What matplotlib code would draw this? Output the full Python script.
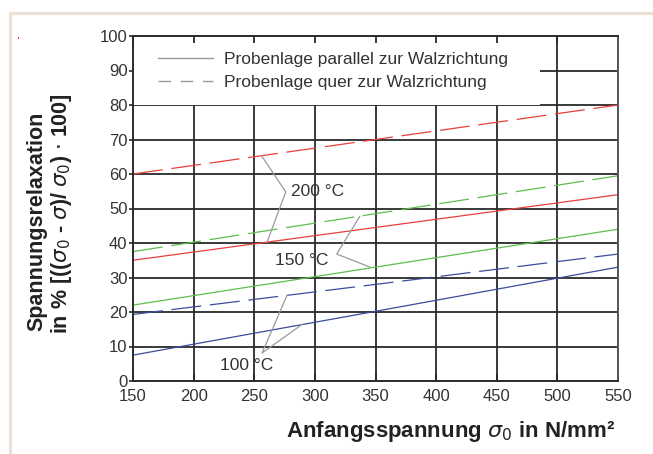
import matplotlib
matplotlib.use('Agg')
import matplotlib.pyplot as plt
from matplotlib.lines import Line2D
from matplotlib.patches import Rectangle

plt.rcParams['font.family'] = ['Liberation Sans', 'DejaVu Sans']
plt.rcParams['mathtext.fontset'] = 'dejavusans'

# initial stress sigma_0 in N/mm^2
stress = [150, 350, 550]

# stress relaxation in %, rolling direction parallel / transverse
relax_200_par = [35.0, 44.5, 54.0]
relax_200_quer = [60.0, 70.0, 80.0]
relax_150_par = [22.0, 33.0, 44.0]
relax_150_quer = [37.5, 48.5, 59.5]
relax_100_par = [7.5, 20.2, 33.0]
relax_100_quer = [19.3, 28.0, 36.8]

x_ticks = [150, 200, 250, 300, 350, 400, 450, 500, 550]
y_ticks = [0, 10, 20, 30, 40, 50, 60, 70, 80, 90, 100]

RED = '#e8403a'
GREEN = '#5cbf4c'
BLUE = '#3a4c9e'
DASH = (0, (24, 7))
LW = 0.9

fig = plt.figure(figsize=(6.53, 4.54), dpi=100)

# beige frame around the sheet
fig.patches.append(Rectangle((9.5 / 653, -0.1), 1.0, 1 - 12.5 / 454 + 0.1,
                             transform=fig.transFigure, facecolor='none',
                             edgecolor='#ebe0d5', linewidth=2.3, zorder=0))
fig.patches.append(Rectangle((17.5 / 653, 1 - 38.5 / 454), 1.5 / 653, 1.5 / 454,
                             transform=fig.transFigure, facecolor='#ff3030',
                             edgecolor='none', zorder=1))

ax = fig.add_axes([133 / 653, 73 / 454, 485 / 653, 345 / 454])
ax.set_xlim(150, 550)
ax.set_ylim(0, 100)
ax.set_xticks(x_ticks)
ax.set_yticks(y_ticks)
ax.grid(False)

# grid drawn by hand so the legend patch can sit between grid and ticks
for xv in x_ticks[1:-1]:
    ax.axvline(xv, color='#2a2a2a', lw=1.3, zorder=0.5)
for yv in y_ticks[1:-1]:
    ax.axhline(yv, color='#2a2a2a', lw=1.3, zorder=0.5)
ax.add_patch(Rectangle((150, 80), 336, 20, facecolor='white',
                       edgecolor='none', zorder=0.8))

ax.plot(stress, relax_200_quer, color=RED, lw=LW, ls=DASH, zorder=2)
ax.plot(stress, relax_200_par, color=RED, lw=LW, zorder=2)
ax.plot(stress, relax_150_quer, color=GREEN, lw=LW, ls=DASH, zorder=2)
ax.plot(stress, relax_150_par, color=GREEN, lw=LW, zorder=2)
ax.plot(stress, relax_100_quer, color=BLUE, lw=LW, ls=DASH, zorder=2)
ax.plot(stress, relax_100_par, color=BLUE, lw=LW, zorder=2)

for sp in ax.spines.values():
    sp.set_color('#2a2a2a')
    sp.set_linewidth(1.4)
ax.spines['right'].set_color('#555555')

ax.tick_params(axis='x', direction='in', top=True, length=5, width=1.3,
               color='#2a2a2a', pad=6, labelsize=12, labelcolor='#333333')
ax.tick_params(axis='y', direction='out', length=3, width=1.2,
               color='#2a2a2a', pad=1, labelsize=12, labelcolor='#333333')

# temperature labels with leader lines
lead = dict(color='#9a9a9a', lw=0.9, zorder=3)
ax.plot([256, 276, 260.5], [65.3, 54.8, 40.2], **lead)
ax.text(280, 54.8, '200 °C', fontsize=12.5, color='#333333', va='center')
ax.plot([337, 318, 345.5], [47.7, 36.8, 33.0], **lead)
ax.text(267, 34.8, '150 °C', fontsize=12.5, color='#333333', va='center')
ax.plot([277, 256.4, 289.4], [24.8, 8.1, 16.4], **lead)
ax.text(222, 4.5, '100 °C', fontsize=12.5, color='#333333', va='center')

handles = [Line2D([], [], color='#9a9a9a', lw=1.0),
           Line2D([], [], color='#9a9a9a', lw=1.0, ls=(0, (9, 7)))]
leg = ax.legend(handles, ['Probenlage parallel zur Walzrichtung',
                          'Probenlage quer zur Walzrichtung'],
                loc='upper left', bbox_to_anchor=(0.037, 0.975), frameon=False,
                fontsize=12.5, handlelength=3.2, handletextpad=0.6,
                labelspacing=0.45, borderaxespad=0.0)
for t in leg.get_texts():
    t.set_color('#333333')

fig.text(37 / 653, 1 - 221 / 454, 'Spannungsrelaxation', rotation=90,
         ha='center', va='center', fontsize=15.5, fontweight='bold',
         color='#222222')
fig.text(62 / 653, 1 - 214 / 454,
         r'in % [(($\sigma_0$ - $\sigma$)/ $\sigma_0$) $\cdot$ 100]',
         rotation=90, ha='center', va='center', fontsize=15.5,
         fontweight='bold', color='#222222')
fig.text(615 / 653, 1 - 431 / 454, r'Anfangsspannung $\sigma_0$ in N/mm²',
         ha='right', va='center', fontsize=16, fontweight='bold',
         color='#222222')

fig.savefig('out.png', dpi=100)
